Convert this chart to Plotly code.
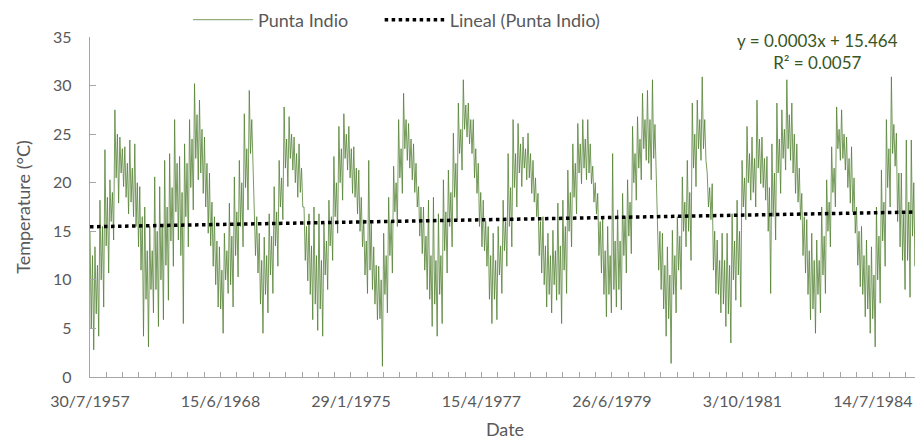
import numpy as np
import plotly.graph_objects as go

# ---- data (~5 px columns left to right) ----
# extreme high / low of the daily trace in each column
temp_high = [
    15.0, 13.4, 18.2, 23.4, 20.3, 27.5, 24.7, 23.7, 24.4, 24.0, 19.6, 17.5, 15.5, 20.6, 19.6, 22.3, 23.0, 26.5, 22.7, 24.0,
    26.5, 30.2, 28.5, 24.7, 21.0, 16.5, 13.4, 14.8,
    17.9, 20.6, 22.3, 27.1, 29.5, 18.2, 14.8, 14.4, 16.8, 19.6, 22.3, 27.8, 26.8, 24.7, 24.0, 17.5, 16.8, 17.5, 16.8, 15.8,
    18.2, 22.7, 25.8, 27.1, 25.8, 23.7, 21.3, 16.2,
    22.3, 13.4, 11.4, 14.8, 18.5, 21.7, 26.5, 29.2, 26.1, 24.0, 19.6, 17.5, 18.2, 18.5, 16.8, 20.3, 21.3, 25.1, 28.2, 30.6,
    28.2, 26.5, 22.0, 18.2, 15.5, 14.8, 15.5, 18.2,
    23.0, 26.5, 26.1, 24.7, 25.1, 22.3, 18.9, 16.5, 14.8, 15.1, 17.9, 18.2, 21.3, 24.0, 26.1, 26.5, 26.5, 21.7, 18.9, 16.5,
    15.5, 23.0, 17.2, 18.9, 20.3, 25.8, 26.8, 29.2,
    29.5, 30.6, 17.5, 14.8, 13.4, 15.1, 16.5, 20.6, 22.3, 28.2, 28.5, 30.9, 21.0, 19.9, 14.1, 14.8, 14.8, 16.8, 18.2, 22.3,
    25.8, 24.7, 28.5, 24.7, 22.7, 24.0, 28.2, 27.5,
    30.6, 28.2, 24.0, 18.9, 16.2, 14.8, 14.1, 17.5, 20.3, 23.7, 27.8, 27.5, 24.7, 23.7, 17.5, 15.5, 14.1, 13.4, 17.5, 21.3,
    26.5, 30.9, 25.1, 21.0, 24.4, 24.4, 26.3,
]
temp_low = [
    2.8, 4.2, 7.2, 10.7, 14.1, 17.9, 19.6, 16.8, 16.5, 13.4, 4.2, 3.1, 6.6, 5.2, 5.9, 7.9, 11.4, 14.1, 5.5, 13.4,
    17.2, 20.3, 18.9, 14.8, 11.4, 7.2, 4.5, 8.6,
    7.2, 10.3, 13.4, 17.2, 21.3, 10.7, 4.5, 6.6, 8.6, 11.4, 16.2, 19.6, 21.3, 18.5, 17.5, 9.9, 5.9, 4.8, 4.2, 9.0,
    12.0, 14.8, 18.2, 21.3, 18.9, 16.8, 13.4, 8.6,
    9.0, 5.9, 1.1, 6.6, 10.7, 15.5, 18.9, 22.3, 20.3, 17.5, 12.7, 9.0, 5.2, 4.2, 5.5, 10.7, 13.4, 16.2, 21.3, 24.7,
    23.0, 18.9, 13.4, 11.4, 5.5, 5.9, 8.6, 11.4,
    13.4, 17.5, 19.6, 20.3, 18.9, 16.5, 10.7, 7.2, 6.6, 7.9, 5.5, 8.6, 13.4, 16.8, 19.9, 20.3, 19.9, 16.8, 10.7, 6.2,
    6.6, 7.2, 6.9, 10.7, 12.7, 18.2, 20.3, 22.3,
    20.3, 21.3, 9.0, 4.2, 1.4, 6.6, 9.0, 13.4, 12.0, 19.6, 22.3, 22.3, 16.2, 8.6, 6.6, 5.2, 3.5, 7.9, 7.2, 16.2,
    18.2, 17.5, 19.9, 18.2, 8.6, 14.1, 18.9, 21.3,
    22.3, 18.9, 16.2, 10.7, 5.9, 4.5, 6.6, 8.6, 13.4, 17.5, 22.3, 21.3, 17.9, 14.8, 9.3, 6.2, 4.5, 3.1, 7.6, 11.4,
    17.5, 21.7, 13.4, 9.0, 8.2, 11.4, 8.7,
]
# upper / lower edge of the dense core of the trace in each column
core_high = [
    12.5, 11.5, 15.5, 18.5, 19.0, 25.0, 23.5, 22.0, 21.5, 20.0, 16.5, 13.0, 13.0, 15.0, 15.5, 17.5, 19.5, 22.0, 19.0, 22.0,
    24.5, 27.0, 25.5, 22.0, 18.0, 14.0, 11.0, 13.0,
    14.5, 17.0, 20.0, 23.5, 26.5, 16.5, 12.0, 12.5, 14.5, 17.0, 20.5, 24.5, 25.0, 23.0, 21.5, 15.5, 13.5, 12.5, 12.0, 14.0,
    16.5, 20.0, 23.5, 25.0, 23.5, 21.5, 18.5, 14.0,
    16.0, 11.5, 10.0, 12.5, 16.0, 20.0, 23.5, 26.5, 24.5, 22.0, 17.5, 14.5, 12.5, 12.0, 12.5, 17.0, 19.0, 22.0, 25.5, 28.0,
    26.5, 23.5, 19.0, 16.0, 12.5, 12.0, 13.5, 16.0,
    19.5, 23.0, 24.0, 23.5, 23.0, 20.5, 16.0, 13.5, 12.5, 13.0, 13.5, 15.5, 19.0, 22.0, 24.0, 24.5, 24.0, 20.0, 16.0, 13.0,
    12.5, 14.0, 14.0, 16.5, 18.0, 23.0, 24.5, 26.5,
    26.5, 26.0, 15.0, 11.5, 10.5, 12.5, 14.5, 18.0, 19.0, 25.0, 26.5, 26.5, 19.5, 15.0, 12.0, 12.0, 11.5, 14.0, 15.0, 20.5,
    23.0, 22.5, 24.5, 22.5, 19.5, 21.0, 24.5, 25.5,
    27.0, 25.0, 21.5, 16.5, 13.0, 12.0, 12.0, 14.5, 18.0, 21.5, 25.5, 25.0, 22.5, 20.5, 15.0, 12.5, 11.5, 10.5, 14.5, 18.0,
    23.5, 26.0, 21.0, 17.0, 18.0, 20.0, 19.0,
]
core_low = [
    5.0, 6.5, 10.0, 13.5, 16.0, 20.5, 21.0, 18.5, 18.0, 15.5, 11.0, 8.0, 9.0, 9.0, 10.0, 11.5, 14.0, 17.0, 12.5, 16.5,
    19.5, 22.5, 21.0, 17.5, 13.5, 9.5, 7.0, 10.0,
    9.5, 12.5, 15.5, 19.5, 23.0, 12.5, 7.5, 8.5, 10.5, 13.5, 17.5, 21.5, 22.5, 20.0, 19.0, 12.0, 8.5, 7.5, 7.0, 10.5,
    13.5, 16.5, 20.0, 22.5, 20.5, 18.5, 15.0, 10.5,
    11.0, 7.5, 6.0, 8.5, 12.5, 17.0, 20.5, 23.5, 21.5, 19.0, 14.5, 11.0, 8.0, 7.5, 8.5, 13.0, 15.5, 18.5, 23.0, 25.5,
    24.0, 20.5, 15.5, 13.0, 8.0, 8.0, 10.5, 13.0,
    15.5, 19.5, 21.0, 21.5, 20.5, 18.0, 12.5, 9.5, 8.5, 9.5, 8.5, 11.0, 15.0, 18.5, 21.0, 21.5, 21.0, 18.0, 12.5, 8.5,
    8.5, 9.0, 9.0, 12.5, 14.5, 20.0, 21.5, 23.5,
    22.0, 22.5, 11.0, 7.0, 6.0, 8.5, 11.0, 15.0, 15.0, 21.5, 23.5, 23.5, 17.5, 11.0, 8.5, 7.5, 6.5, 10.0, 10.5, 17.5,
    20.0, 19.0, 21.5, 19.5, 15.0, 16.5, 21.0, 22.5,
    23.5, 21.0, 18.0, 12.5, 8.5, 7.0, 8.5, 10.5, 15.0, 19.0, 23.5, 22.5, 19.5, 17.0, 11.5, 8.5, 7.0, 6.0, 10.0, 14.0,
    19.5, 23.0, 16.0, 12.0, 12.0, 14.5, 13.0,
]

# Excel category axis: number of daily records and label / tick intervals
n_days = 5090
label_interval = 800
tick_interval = 100
date_labels = ["30/7/1957", "15/6/1968", "29/1/1975", "15/4/1977",
               "26/6/1979", "3/10/1981", "14/7/1984"]

# Linear trendline reported by Excel
trend_slope = 0.0003
trend_intercept = 15.464
trend_r2 = 0.0057

# ---- build the single trace: per column high -> core low -> core high -> low ----
series = np.column_stack([temp_high, core_low, core_high, temp_low]).ravel()
x_idx = np.linspace(1, n_days, len(series))
x_trend = np.array([1, n_days])
y_trend = trend_slope * x_trend + trend_intercept

font_family = "Lato, 'Open Sans', sans-serif"
grey = "#595959"
axis_grey = "#a6a6a6"

fig = go.Figure()
fig.add_trace(go.Scatter(
    x=x_idx, y=series, mode="lines", name="Punta Indio", legend="legend",
    line=dict(color="rgb(84,130,53)", width=0.8),
))
fig.add_trace(go.Scatter(
    x=x_trend, y=y_trend, mode="lines", name="Lineal (Punta Indio)", legend="legend2",
    line=dict(color="black", width=3.5, dash="dot"),
))

tickvals = [1 + label_interval * i for i in range(len(date_labels))]

legend_style = dict(orientation="h", yanchor="middle", y=1.05, xanchor="left",
                    font=dict(size=18, color=grey), bgcolor="rgba(0,0,0,0)",
                    itemwidth=60)

# the page body adds an 8 px margin, so the figure is 8 px smaller than the window
fig.update_layout(
    width=915, height=433,
    margin=dict(l=82, r=3, t=29, b=64, autoexpand=False),
    paper_bgcolor="white", plot_bgcolor="white",
    font=dict(family=font_family, color=grey, size=16),
    showlegend=True,
    legend=dict(legend_style, x=0.118),
    legend2=dict(legend_style, x=0.349),
    xaxis=dict(
        range=[1, n_days], tickmode="array", tickvals=tickvals, ticktext=date_labels,
        ticks="inside", ticklen=5, tickcolor=axis_grey, tickwidth=1,
        minor=dict(dtick=tick_interval, tick0=1, ticks="inside", ticklen=5,
                   tickcolor=axis_grey, tickwidth=1, showgrid=False),
        showline=True, linecolor=axis_grey, linewidth=1.3,
        showgrid=False, zeroline=False, automargin=False,
        tickfont=dict(size=16, color=grey), ticklabelstandoff=10,
        title=dict(text="Date", font=dict(size=18, color=grey), standoff=14),
    ),
    yaxis=dict(
        range=[0, 35], dtick=5, tick0=0,
        ticks="inside", ticklen=6, tickcolor=axis_grey, tickwidth=1,
        showline=True, linecolor=axis_grey, linewidth=1.3,
        showgrid=False, zeroline=False, automargin=False,
        tickfont=dict(size=16, color=grey), ticklabelstandoff=14,
        title=dict(text="Temperature (°C)", font=dict(size=18, color=grey), standoff=17),
    ),
    annotations=[dict(
        xref="paper", yref="paper", x=0.876, y=0.956, xanchor="center", yanchor="middle",
        text=f"y = {trend_slope}x + {trend_intercept}<br>R² = {trend_r2}",
        showarrow=False, align="center",
        font=dict(size=17, color="#375623", family=font_family),
    )],
)

fig.write_html("out.html")
